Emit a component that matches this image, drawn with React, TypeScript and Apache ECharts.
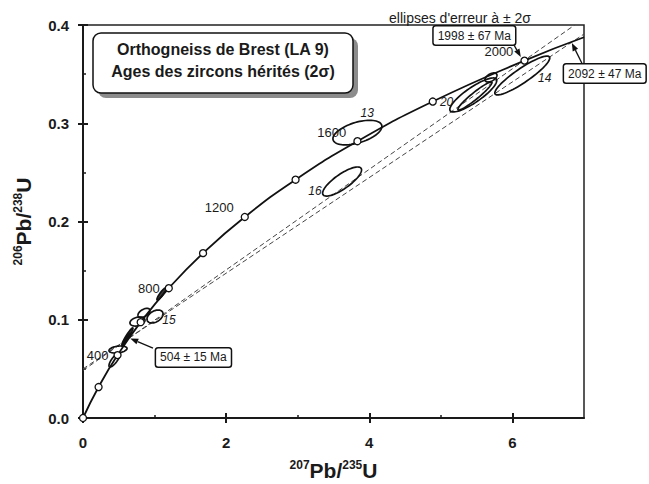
import React, { useEffect, useRef } from "react";
import * as echarts from "echarts";

// Concordia (ages in Ma, with 207Pb/235U and 206Pb/238U read at the marked points)
const concordiaAges = [0, 200, 400, 600, 800, 1000, 1200, 1400, 1600, 1800, 2000];
const concordiaX = [0, 0.2177, 0.4828, 0.8056, 1.1987, 1.6774, 2.2603, 2.9701, 3.8344, 4.8869, 6.1685];
const concordiaY = [0, 0.03151, 0.06402, 0.09754, 0.13213, 0.1678, 0.2046, 0.24256, 0.28172, 0.3221, 0.36377];
const concordiaEnd = [7.0, 0.38755];
const labelledAges = [400, 800, 1200, 1600, 2000];

// Discordia lines (dashed)
const discordia1998 = [[0, 0.0484], [6.87, 0.4]];
const discordia2092 = [[0, 0.05], [7, 0.3908]];

// Error ellipses: [x, y, 2σ x, 2σ y, rho, filled]
const ellipses = [
  [3.834, 0.2905, 0.342, 0.0125, 0.5, 0],
  [3.62, 0.2407, 0.272, 0.0148, 0.8, 0],
  [5.453, 0.3288, 0.328, 0.0173, 0.85, 0],
  [5.475, 0.3277, 0.237, 0.0142, 0.95, 0],
  [5.7, 0.3466, 0.084, 0.0046, 0.5, 0],
  [6.138, 0.3486, 0.384, 0.0198, 0.9, 0],
  [1.006, 0.1033, 0.112, 0.0066, 0.4, 0],
  [0.761, 0.0982, 0.105, 0.0046, 0.3, 0],
  [0.852, 0.107, 0.084, 0.0046, 0.5, 0],
  [0.489, 0.0697, 0.126, 0.0036, 0.3, 0],
  [0.44, 0.059, 0.077, 0.0071, 0.8, 0],
  [0.621, 0.083, 0.077, 0.0087, 0.95, 1],
  [0.6, 0.0795, 0.055, 0.0065, 0.97, 1],
  [1.096, 0.1262, 0.063, 0.0061, 0.9, 1],
];

// Ellipse numbers: name and anchor (data coordinates)
const tagNames = ["13", "16", "20", "14", "15"];
const tagX = [3.97, 3.24, 5.08, 6.45, 1.2];
const tagY = [0.3104, 0.231, 0.3216, 0.346, 0.0997];

// Intercept callouts: [tipX, tipY, tailX, tailY, boxX, boxY]
const calloutTexts = ["504 ± 15 Ma", "1998 ± 67 Ma", "2092 ± 47 Ma"];
const callouts = [
  [0.66, 0.081, 0.978, 0.0712, 1.543, 0.0616],
  [6.117, 0.3674, 6.006, 0.3817, 5.468, 0.3893],
  [6.83, 0.3817, 6.983, 0.3593, 7.29, 0.3506],
];

const xMajor = [0, 2, 4, 6];
const xMinor = [1, 3, 5];
const yMajor = [0, 0.1, 0.2, 0.3, 0.4];
const yMinor = [0.05, 0.15, 0.25, 0.35];

const FONT = '"Liberation Sans", Arial, Helvetica, sans-serif';
const INK = "#1a1a1a";

function buildOption() {
  const tickStyle = { color: INK, width: 2 };
  const baseX = { type: "value", min: 0, max: 7, interval: 1, position: "bottom", splitLine: { show: false } };
  const baseY = { type: "value", min: 0, max: 0.4, interval: 0.1, position: "left", splitLine: { show: false } };
  const rich = {
    sup: { fontSize: 12, fontWeight: "bold", fontFamily: FONT, color: INK, verticalAlign: "top", lineHeight: 13 },
    main: { fontSize: 21, fontWeight: "bold", fontFamily: FONT, color: INK, verticalAlign: "bottom", lineHeight: 22 },
  };

  const concordiaPts = concordiaX.map((x, i) => [x, concordiaY[i]]);

  return {
    animation: false,
    backgroundColor: "#fff",
    grid: {
      left: 83, right: 65, top: 25, bottom: 66,
      containLabel: false, outerBoundsMode: "none",
      show: true, borderColor: "#222", borderWidth: 1.5, backgroundColor: "transparent",
    },
    xAxis: [
      {
        ...baseX,
        axisLine: { show: true, onZero: false, lineStyle: { color: INK, width: 2 } },
        axisTick: { show: true, inside: false, length: 5, customValues: xMajor, lineStyle: tickStyle },
        axisLabel: { customValues: xMajor, margin: 17, fontSize: 15, fontWeight: "bold", fontFamily: FONT, color: INK },
        name: "{sup|207}{main|Pb/}{sup|235}{main|U}",
        nameLocation: "middle",
        nameGap: 41,
        nameTextStyle: { rich },
      },
      {
        ...baseX,
        axisLine: { show: false },
        axisTick: { show: true, inside: true, length: 5, customValues: xMajor, lineStyle: tickStyle },
        axisLabel: { show: false },
      },
      {
        ...baseX,
        axisLine: { show: false },
        axisTick: { show: true, inside: true, length: 3, customValues: xMinor, lineStyle: { color: INK, width: 1.5 } },
        axisLabel: { show: false },
      },
    ],
    yAxis: [
      {
        ...baseY,
        axisLine: { show: true, onZero: false, lineStyle: { color: INK, width: 2 } },
        axisTick: { show: true, inside: false, length: 5, customValues: yMajor, lineStyle: tickStyle },
        axisLabel: {
          customValues: yMajor,
          margin: 14,
          fontSize: 15,
          fontWeight: "bold",
          fontFamily: FONT,
          color: INK,
          formatter: (v: number) => v.toFixed(1),
        },
        name: "{sup|206}{main|Pb/}{sup|238}{main|U}",
        nameLocation: "middle",
        nameRotate: 90,
        nameGap: 49,
        nameTextStyle: { rich },
      },
      {
        ...baseY,
        axisLine: { show: false },
        axisTick: { show: true, inside: true, length: 5, customValues: yMajor, lineStyle: tickStyle },
        axisLabel: { show: false },
      },
      {
        ...baseY,
        axisLine: { show: false },
        axisTick: { show: true, inside: true, length: 3, customValues: yMinor, lineStyle: { color: INK, width: 1.5 } },
        axisLabel: { show: false },
      },
    ],
    graphic: [
      { type: "rect", z: 10, shape: { x: 98, y: 38, width: 260, height: 60, r: 8 }, style: { fill: "#8c8c8c" } },
      { type: "rect", z: 11, shape: { x: 93, y: 33, width: 260, height: 60, r: 8 }, style: { fill: "#fff", stroke: "#111", lineWidth: 1.5 } },
      {
        type: "text", z: 12, x: 223, y: 49,
        style: { text: "Orthogneiss de Brest (LA 9)", font: `bold 16px ${FONT}`, fill: INK, align: "center", verticalAlign: "middle" },
      },
      {
        type: "text", z: 12, x: 223, y: 71,
        style: { text: "Ages des zircons hérités (2σ)", font: `bold 16px ${FONT}`, fill: INK, align: "center", verticalAlign: "middle" },
      },
      {
        type: "text", z: 12, x: 460, y: 18,
        style: { text: "ellipses d'erreur à ± 2σ", font: `14px ${FONT}`, fill: INK, align: "center", verticalAlign: "middle" },
      },
    ],
    series: [
      {
        type: "line", name: "discordia 1998", data: discordia1998, showSymbol: false, z: 1,
        lineStyle: { color: "#444", width: 1, type: [5, 3] },
      },
      {
        type: "line", name: "discordia 2092", data: discordia2092, showSymbol: false, z: 1,
        lineStyle: { color: "#444", width: 1, type: [5, 3] },
      },
      {
        type: "custom", name: "ellipses", data: ellipses, encode: { x: 0, y: 1 }, z: 2, clip: false,
        renderItem: (params: any, api: any) => {
          const cx = api.value(0), cy = api.value(1), sx = api.value(2), sy = api.value(3), rho = api.value(4);
          const filled = api.value(5);
          const k = Math.sqrt(1 - rho * rho);
          const pts: number[][] = [];
          for (let i = 0; i < 72; i++) {
            const t = (i / 72) * Math.PI * 2;
            pts.push(api.coord([cx + sx * Math.cos(t), cy + sy * (rho * Math.cos(t) + k * Math.sin(t))]));
          }
          return {
            type: "polygon",
            shape: { points: pts },
            style: { fill: filled ? "#3a3a3a" : "none", stroke: "#111", lineWidth: 1.7 },
          };
        },
      },
      {
        type: "line", name: "concordia", data: [...concordiaPts, concordiaEnd], smooth: true, showSymbol: false, z: 3,
        lineStyle: { color: "#111", width: 1.8 },
      },
      {
        type: "scatter", name: "ages", z: 4, symbol: "circle", symbolSize: 7,
        itemStyle: { color: "#fff", borderColor: "#111", borderWidth: 1.3, opacity: 1 },
        data: concordiaPts.map((p, i) => {
          const age = concordiaAges[i];
          const show = labelledAges.indexOf(age) >= 0;
          return {
            value: p,
            name: String(age),
            label: {
              show,
              position: "left",
              distance: 5,
              offset: age >= 1200 ? [-2, -9] : [0, 0],
              formatter: String(age),
              fontSize: 13,
              fontFamily: FONT,
              color: INK,
            },
          };
        }),
      },
      {
        type: "custom", name: "tags", z: 5, clip: false,
        data: tagX.map((x, i) => [x, tagY[i]]), encode: { x: 0, y: 1 },
        renderItem: (params: any, api: any) => {
          const p = api.coord([api.value(0), api.value(1)]);
          return {
            type: "text", x: p[0], y: p[1],
            style: { text: tagNames[params.dataIndex], font: `italic 12px ${FONT}`, fill: INK, align: "center", verticalAlign: "middle" },
          };
        },
      },
      {
        type: "custom", name: "callouts", z: 6, clip: false,
        data: callouts, encode: { x: 0, y: 1 },
        renderItem: (params: any, api: any) => {
          const tip = api.coord([api.value(0), api.value(1)]);
          const tail = api.coord([api.value(2), api.value(3)]);
          const box = api.coord([api.value(4), api.value(5)]);
          const dx = tip[0] - tail[0], dy = tip[1] - tail[1];
          const len = Math.hypot(dx, dy) || 1;
          const ux = dx / len, uy = dy / len;
          const hl = 8, hw = 3;
          const base = [tip[0] - ux * hl, tip[1] - uy * hl];
          const p1 = [base[0] - uy * hw, base[1] + ux * hw];
          const p2 = [base[0] + uy * hw, base[1] - ux * hw];
          return {
            type: "group",
            children: [
              { type: "line", shape: { x1: tail[0], y1: tail[1], x2: base[0], y2: base[1] }, style: { stroke: "#111", lineWidth: 1.3 } },
              { type: "polygon", shape: { points: [tip, p1, p2] }, style: { fill: "#111" } },
              {
                type: "text", x: box[0], y: box[1],
                style: {
                  text: calloutTexts[params.dataIndex], font: `12px ${FONT}`, fill: INK, align: "center", verticalAlign: "middle",
                  backgroundColor: "#fff", borderColor: "#111", borderWidth: 1.5, padding: [3, 4], borderRadius: 2,
                },
              },
            ],
          };
        },
      },
    ],
  };
}

export default function App() {
  const ref = useRef<HTMLDivElement>(null);
  useEffect(() => {
    if (!ref.current) return;
    const chart = echarts.init(ref.current, null, { renderer: "svg" });
    chart.setOption(buildOption() as any);
    return () => chart.dispose();
  }, []);
  return (
    <div
      ref={ref}
      style={{ position: "fixed", left: 0, top: 0, width: 649, height: 484, background: "#fff" }}
    />
  );
}
